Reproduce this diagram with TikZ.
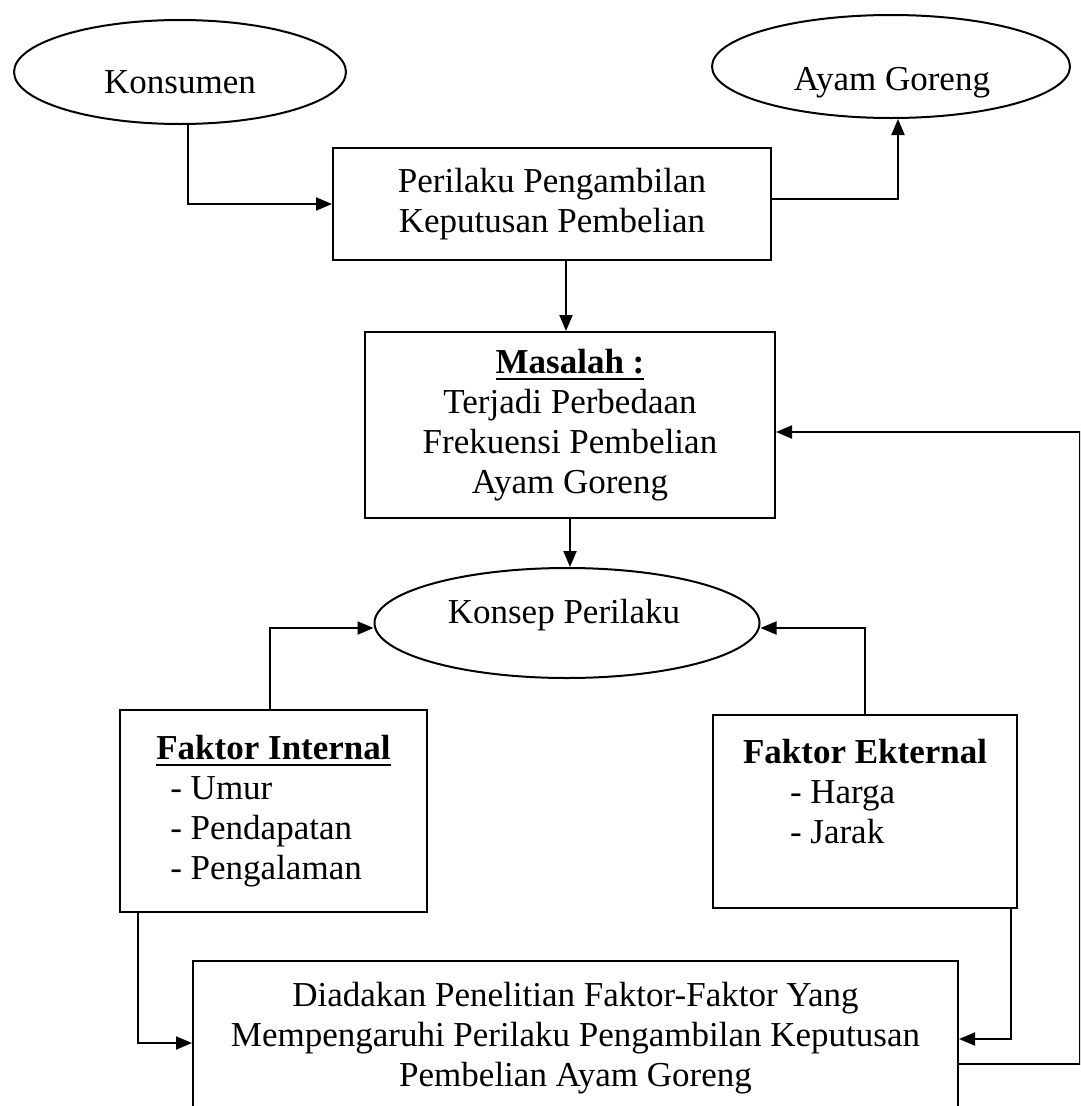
\documentclass[tikz,border=0pt]{standalone}
\usepackage{fontspec}
\setmainfont{Liberation Serif}
\usetikzlibrary{arrows.meta,shapes.geometric}
\newcommand{\myul}[1]{\vtop{\hbox{#1}\kern4pt\hrule height 2pt}}
\begin{document}
\begin{tikzpicture}[x=1pt,y=-1pt,
  every node/.style={font=\fontsize{35}{40}\selectfont},
  box/.style={draw, line width=2pt, rectangle, inner sep=0pt, align=center},
  oval/.style={draw, line width=2pt, ellipse, inner sep=0pt},
  lbl/.style={anchor=base, inner sep=0pt},
  arr/.style={line width=2pt, -{Triangle[length=16pt,width=13pt]}}]
\useasboundingbox (0,0) rectangle (1080,1106);
\clip (0,0) rectangle (1080,1106);
\fill[white] (0,0) rectangle (1080,1106);

% nodes
\node[oval, minimum width=332pt, minimum height=104pt] (konsumen) at (180,72) {};
\node[lbl] (konsumenTxt) at (180,93) {Konsumen};
\node[oval, minimum width=358pt, minimum height=103pt] (ayam) at (891,66.5) {};
\node[lbl] (ayamTxt) at (892,90) {Ayam Goreng};
\node[box, minimum width=438pt, minimum height=112pt] (perilaku) at (552,204)
  {Perilaku Pengambilan\\Keputusan Pembelian};
\node[box, minimum width=410pt, minimum height=186pt] (masalah) at (570,425)
  {\myul{\textbf{Masalah :}}\\Terjadi Perbedaan\\Frekuensi Pembelian\\Ayam Goreng};
\node[oval, minimum width=385pt, minimum height=110pt] (konsep) at (567,623) {};
\node[lbl] (konsepTxt) at (564,623) {Konsep Perilaku};
\node[box, align=left, minimum width=307pt, minimum height=202pt] (internal) at (273.5,811)
  {\myul{\textbf{Faktor Internal}}\\\hspace*{14pt}- Umur\\\hspace*{14pt}- Pendapatan\\\hspace*{14pt}- Pengalaman};
\node[box, align=left, minimum width=304pt, minimum height=193pt] (ekternal) at (865,811.5)
  {\textbf{Faktor Ekternal}\\\hspace*{47pt}- Harga\\\hspace*{47pt}- Jarak\\\mbox{}};
\node[box, minimum width=765pt, minimum height=154pt] (bottom) at (575.5,1038)
  {Diadakan Penelitian Faktor-Faktor Yang\\Mempengaruhi Perilaku Pengambilan Keputusan\\Pembelian Ayam Goreng};
\coordinate (fbtop) at (1080,432);

% connectors
\draw[arr] ([xshift=8pt]konsumen.south) |- (perilaku.west);
\draw[arr] ([yshift=5pt]perilaku.east) -| ([xshift=7pt]ayam.south);
\draw[arr] ([xshift=14pt]perilaku.south) -- ([xshift=-4pt]masalah.north);
\draw[arr] (masalah.south) -- (masalah.south |- konsep.north);
\draw[arr] ([xshift=-3.5pt]internal.north) |- ([yshift=-5pt]konsep.west);
\draw[arr] (ekternal.north) |- ([yshift=-5pt]konsep.east);
\draw[arr] ([xshift=19pt]internal.south west) |- ([yshift=-5pt]bottom.west);
\draw[arr] ([xshift=-7pt]ekternal.south east) |- ([yshift=-1pt]bottom.east);
\draw[arr] ([yshift=-26pt]bottom.east) -| (fbtop) -- ([yshift=-7pt]masalah.east);
\end{tikzpicture}
\end{document}
